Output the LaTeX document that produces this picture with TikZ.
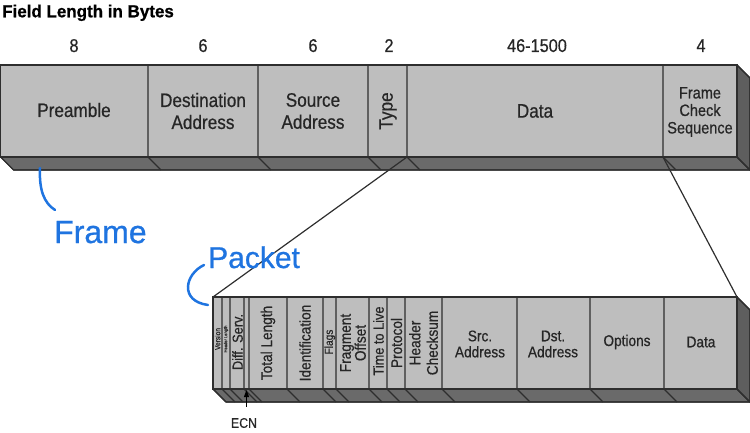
\documentclass[tikz,border=0pt]{standalone}
\usepackage{fontspec}
\setmainfont{Liberation Sans}
\newfontfamily\cond[FakeStretch=0.88,FakeBold=0.6]{Liberation Sans}
\newfontfamily\condbf[FakeStretch=0.97,FakeBold=0.8]{Liberation Sans Bold}
\newfontfamily\handf[FakeBold=0.8]{Liberation Sans}
\usetikzlibrary{arrows.meta}
\definecolor{frontc}{HTML}{BEBEBE}
\definecolor{botc}{HTML}{6A6A6A}
\definecolor{rightc}{HTML}{5E5E5E}
\definecolor{linec}{HTML}{2E2E2E}
\definecolor{txtc}{HTML}{262626}
\definecolor{handc}{HTML}{1F74E0}
\tikzset{
  frontface/.style={fill=frontc, draw=linec, line width=1.2pt},
  bottomface/.style={fill=botc, draw=linec, line width=1.2pt, line join=round},
  rightface/.style={fill=rightc, draw=linec, line width=1.2pt, line join=round},
  divider/.style={draw=linec, line width=1.2pt},
  conn/.style={draw=linec, line width=1.2pt},
  lbl/.style={font=\cond\fontsize{19.5}{22}\selectfont, text=txtc, align=center, inner sep=0pt},
  fcslbl/.style={font=\cond\fontsize{16.5}{17.5}\selectfont, text=txtc, align=center, inner sep=0pt},
  numlbl/.style={font=\cond\fontsize{18.5}{20}\selectfont, text=txtc, inner sep=0pt},
  plbl/.style={font=\cond\fontsize{15.5}{16}\selectfont, text=txtc, align=center, inner sep=0pt},
  vlbl/.style={plbl, rotate=90},
  titlelbl/.style={font=\condbf\fontsize{17.5}{19}\selectfont, text=black, inner sep=0pt},
  hand/.style={text=handc, inner sep=0pt},
  handline/.style={draw=handc, line width=2.5pt, line cap=round},
  ecnarrow/.style={draw=black, line width=1.1pt, -{Triangle[length=7pt,width=5pt]}}
}
\begin{document}
\begin{tikzpicture}[x=1pt,y=-1pt]
\useasboundingbox (0,0) rectangle (750,433);

% title
\node[titlelbl, anchor=base west] (title) at (2,17.3) {Field Length in Bytes};

% byte counts
\node[numlbl, anchor=base] (n1) at (74,52) {8};
\node[numlbl, anchor=base] (n2) at (203,52) {6};
\node[numlbl, anchor=base] (n3) at (313,52) {6};
\node[numlbl, anchor=base] (n4) at (389,52) {2};
\node[numlbl, anchor=base] (n5) at (537,52) {46-1500};
\node[numlbl, anchor=base] (n6) at (701,52) {4};

% ---- frame bar ----
\fill[bottomface] (0.6,157) -- (737,157) -- (750,170) -- (13.6,170) -- cycle;
\fill[rightface] (737,65) -- (750,78) -- (750,170) -- (737,157) -- cycle;
\draw[frontface] (0.6,65) rectangle (737,157);
\draw[bottomface, fill=none] (0.6,157) -- (13.6,170) -- (750,170);
\draw[rightface, fill=none] (737,65) -- (750,78) -- (750,170) -- (737,157);
\foreach \x in {148,258,368,407,663}
  \draw[divider] (\x,65) -- (\x,157) -- (\x+13,170);

\coordinate (typeR) at (407,157);
\coordinate (fcsL) at (663,157);

\node[lbl] (preamble) at (74,110) {Preamble};
\node[lbl] (dest) at (203,111) {Destination\\Address};
\node[lbl] (source) at (313,111) {Source\\Address};
\node[lbl, rotate=90] (type) at (388,111) {Type};
\node[lbl] (data) at (535,111) {Data};
\node[fcslbl] (fcs) at (700,112) {Frame\\Check\\Sequence};

% ---- packet bar ----
\fill[bottomface] (213,389) -- (737,389) -- (750,402) -- (226,402) -- cycle;
\fill[rightface] (737,297) -- (750,310) -- (750,402) -- (737,389) -- cycle;
\draw[frontface] (213,297) rectangle (737,389);
\draw[bottomface, fill=none] (213,389) -- (226,402) -- (750,402);
\draw[rightface, fill=none] (737,297) -- (750,310) -- (750,402) -- (737,389);
\foreach \x in {222,230,244,249,287,323,336,369,387,405,442,517,590,664}
  \draw[divider] (\x,297) -- (\x,389) -- (\x+13,402);

\coordinate (pktTL) at (213,297);
\coordinate (pktTR) at (737,297);

\node[vlbl, font=\cond\fontsize{7.5}{8}\selectfont] (ver) at (217.6,339) {Version};
\node[vlbl, font=\cond\fontsize{4.6}{5}\selectfont] (hlen) at (226,339) {Header Length};
\node[vlbl, font=\cond\fontsize{14.5}{15}\selectfont] (dserv) at (237.5,342) {Diff. Serv.};
\node[vlbl] (tlen) at (268,343) {Total Length};
\node[vlbl] (ident) at (305,343) {Identification};
\node[vlbl, font=\cond\fontsize{11.5}{12}\selectfont] (flags) at (329.8,342) {Flags};
\node[vlbl, font=\cond\fontsize{15.5}{15}\selectfont] (frag) at (353,343) {Fragment\\Offset};
\node[vlbl, font=\cond\fontsize{14.5}{15}\selectfont] (ttl) at (378.5,341) {Time to Live};
\node[vlbl] (proto) at (396.5,343) {Protocol};
\node[vlbl, font=\cond\fontsize{15.5}{17.5}\selectfont] (hcs) at (423.5,343) {Header\\Checksum};
\node[plbl] (srca) at (480,344) {Src.\\Address};
\node[plbl] (dsta) at (553,344) {Dst.\\Address};
\node[plbl] (opts) at (627,342) {Options};
\node[plbl] (pdata) at (701,342) {Data};

% connectors from frame to packet
\draw[conn] (typeR) -- (pktTL);
\draw[conn] (fcsL) -- (pktTR);

% ECN
\node[plbl, font=\cond\fontsize{14}{15}\selectfont] (ecn) at (244,423) {ECN};
\coordinate (ecnTip) at (246.5,390);
\draw[ecnarrow, shorten <=11pt] (ecn.north -| ecnTip) -- (ecnTip);

% handwritten annotations
\coordinate (frameA) at (40,168);
\coordinate (frameB) at (55,210);
\draw[handline] (frameA) .. controls (39,190) and (44,203) .. (frameB);
\node[hand, anchor=base west, font=\handf\fontsize{32}{34}\selectfont] (frame) at (54,243) {Frame};

\coordinate (packetA) at (204,265);
\coordinate (packetB) at (208,305);
\draw[handline] (packetA) .. controls (185,274) and (179,301) .. (packetB);
\node[hand, anchor=base west, font=\handf\fontsize{30}{32}\selectfont] (packet) at (208,268) {Packet};
\end{tikzpicture}
\end{document}
